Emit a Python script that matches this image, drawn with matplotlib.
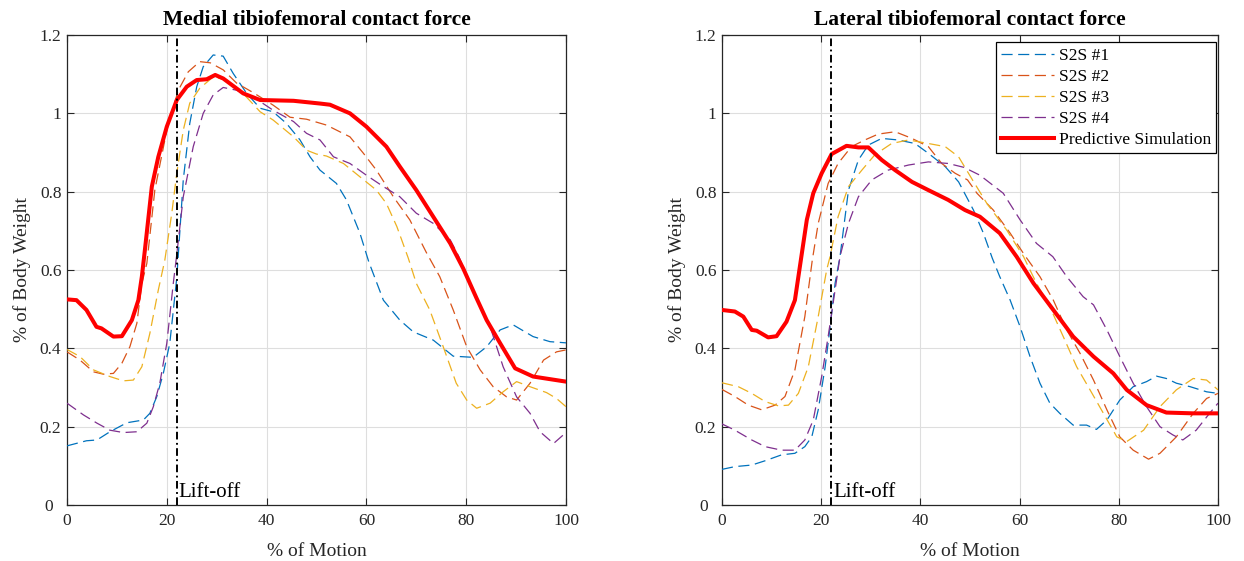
import matplotlib
matplotlib.use("Agg")
import matplotlib.pyplot as plt
from matplotlib.transforms import ScaledTranslation

plt.rcParams["font.family"] = ["Liberation Serif", "DejaVu Serif"]
plt.rcParams["lines.scale_dashes"] = False

# ---------------- Medial tibiofemoral contact force ----------------
med_s1_x = [0, 3.9, 6, 8.6, 12, 15.3, 16.6, 18, 19.3, 20.6, 22, 23.3, 24.6, 26, 27.3, 29.3, 31.3, 33.3,
            36, 38.7, 41.3, 44, 46.7, 48.7, 50.7, 54, 56, 58.7, 60.5, 63.4, 66.7, 69.4, 73.4, 77.4, 81.4,
            84.1, 86.8, 89.4, 93.4, 96.8, 100]
med_s1_y = [0.151, 0.164, 0.166, 0.187, 0.21, 0.217, 0.234, 0.277, 0.336, 0.413, 0.58, 0.83, 0.974, 1.068,
            1.119, 1.149, 1.146, 1.102, 1.051, 1.013, 1.004, 0.974, 0.932, 0.889, 0.855, 0.821, 0.779,
            0.694, 0.62, 0.523, 0.472, 0.442, 0.421, 0.38, 0.377, 0.404, 0.447, 0.46, 0.43, 0.417, 0.414]

med_s2_x = [0, 2.6, 5.3, 7.3, 9.3, 11, 12.6, 14, 15, 16, 17.6, 20, 22.3, 24.3, 26.6, 28.7, 31.3, 34, 37.3,
            41.3, 44.7, 48, 52, 56.7, 59.4, 62, 65.4, 68.7, 72, 74.7, 77.4, 80.1, 82.8, 85.4, 88.1, 90.1,
            92.8, 95.5, 98.1, 100]
med_s2_y = [0.391, 0.37, 0.34, 0.334, 0.336, 0.362, 0.404, 0.464, 0.566, 0.617, 0.804, 0.957, 1.059, 1.106,
            1.132, 1.129, 1.111, 1.077, 1.053, 1.021, 0.99, 0.985, 0.97, 0.94, 0.898, 0.855, 0.787, 0.728,
            0.645, 0.583, 0.498, 0.404, 0.345, 0.302, 0.276, 0.268, 0.311, 0.37, 0.391, 0.396]

med_s3_x = [0, 2.6, 5.3, 8.6, 11.3, 13.3, 15, 16.6, 18.3, 19.6, 21, 22, 23.3, 24.6, 26.6, 29.3, 32, 34.7,
            38.7, 41.3, 45.4, 48, 50, 52, 55.4, 58.7, 62, 64, 66.1, 68.4, 70, 72.7, 75.4, 78, 80.1, 82.1,
            84.8, 87.4, 90.1, 92.8, 96.1, 98.1, 100]
med_s3_y = [0.397, 0.379, 0.345, 0.328, 0.317, 0.319, 0.353, 0.438, 0.549, 0.625, 0.745, 0.847, 0.957,
            1.026, 1.064, 1.093, 1.085, 1.059, 1.004, 0.983, 0.94, 0.906, 0.896, 0.891, 0.872, 0.838,
            0.804, 0.77, 0.711, 0.63, 0.566, 0.498, 0.404, 0.311, 0.268, 0.247, 0.26, 0.289, 0.315,
            0.302, 0.287, 0.272, 0.251]

med_s4_x = [0, 3.3, 6, 8.6, 11.3, 14, 16, 17.3, 18.6, 20, 21.3, 22, 23.3, 25.3, 27.3, 29.3, 31.3, 34, 37.3,
            41.3, 45.4, 48, 50.7, 53.4, 56.7, 60, 63.4, 66.7, 70, 73.4, 76.8, 78.5, 81.4, 84.8, 87.4,
            90.1, 92.8, 94.8, 97.5, 100]
med_s4_y = [0.26, 0.23, 0.209, 0.191, 0.185, 0.187, 0.209, 0.251, 0.311, 0.413, 0.566, 0.64, 0.787, 0.915,
            1.0, 1.047, 1.066, 1.059, 1.042, 1.008, 0.979, 0.949, 0.932, 0.889, 0.872, 0.842, 0.813,
            0.787, 0.745, 0.719, 0.677, 0.635, 0.549, 0.455, 0.353, 0.276, 0.234, 0.187, 0.157, 0.185]

med_sim_x = [0, 1.9, 3.9, 5.9, 6.9, 9.3, 11, 13, 14.3, 15, 15.6, 17, 18.3, 20, 22, 24, 26, 28, 29.7, 31.3,
             35.3, 38.7, 45.4, 50.7, 52.7, 56.7, 60, 64, 66.7, 70, 73.4, 76.8, 79.4, 82, 84.1, 86.8, 89.8,
             93.4, 100]
med_sim_y = [0.525, 0.523, 0.498, 0.455, 0.451, 0.43, 0.431, 0.472, 0.523, 0.583, 0.65, 0.813, 0.889,
             0.966, 1.034, 1.068, 1.085, 1.087, 1.098, 1.089, 1.051, 1.034, 1.032, 1.025, 1.022, 1.0,
             0.966, 0.915, 0.864, 0.804, 0.736, 0.668, 0.604, 0.53, 0.472, 0.413, 0.349, 0.328, 0.315]

# ---------------- Lateral tibiofemoral contact force ----------------
lat_s1_x = [0, 2.6, 6, 8.7, 12, 14.7, 16.7, 18.1, 19.4, 20.8, 21.8, 22.8, 23.8, 25.5, 27.5, 29.5, 32.2,
            35.5, 38.9, 41.6, 45, 47.7, 50.7, 52.7, 54.5, 56, 58.1, 60.1, 62.1, 64.1, 66.1, 68.1, 70.8,
            73.5, 75.5, 77.6, 80.2, 82.9, 85.6, 87.6, 89.6, 91.6, 94.4, 97.7, 100]
lat_s1_y = [0.091, 0.098, 0.102, 0.113, 0.128, 0.132, 0.149, 0.174, 0.243, 0.353, 0.455, 0.566, 0.635,
            0.804, 0.881, 0.919, 0.936, 0.932, 0.923, 0.898, 0.864, 0.825, 0.753, 0.694, 0.63, 0.583,
            0.523, 0.455, 0.379, 0.311, 0.26, 0.234, 0.204, 0.204, 0.193, 0.217, 0.268, 0.302, 0.315,
            0.329, 0.323, 0.311, 0.302, 0.289, 0.285]

lat_s2_x = [0, 2.6, 5.3, 8, 10.7, 12.7, 14.7, 16.7, 18.2, 19.4, 21.4, 23.4, 26.1, 28.8, 31.5, 34.9, 38.3,
            41.6, 44.3, 47, 49.5, 51.4, 54.7, 58.1, 61, 64.1, 66.8, 69.5, 72.2, 74.9, 77.6, 80.2, 82.9,
            86, 88.3, 91.6, 95, 97.7, 100]
lat_s2_y = [0.295, 0.277, 0.255, 0.243, 0.255, 0.277, 0.345, 0.481, 0.625, 0.719, 0.821, 0.872, 0.915,
            0.932, 0.947, 0.953, 0.936, 0.915, 0.872, 0.847, 0.83, 0.796, 0.753, 0.694, 0.638, 0.583,
            0.523, 0.447, 0.387, 0.319, 0.243, 0.174, 0.14, 0.117, 0.132, 0.174, 0.234, 0.272, 0.285]

lat_s3_x = [0, 3.3, 6, 8.7, 11.4, 13.4, 15.4, 17.4, 19.4, 21.1, 21.8, 23.4, 25.5, 28.2, 30.8, 34.2, 37.6,
            41.6, 45, 47.7, 50.5, 53.4, 57.4, 60.8, 63.4, 66.1, 68.8, 71.5, 74.2, 76.9, 79.6, 81.6, 85,
            88.3, 91.6, 95, 97.7, 100]
lat_s3_y = [0.312, 0.302, 0.285, 0.264, 0.253, 0.255, 0.285, 0.353, 0.481, 0.6, 0.635, 0.736, 0.813,
            0.855, 0.894, 0.923, 0.932, 0.923, 0.915, 0.889, 0.83, 0.77, 0.702, 0.634, 0.566, 0.506,
            0.43, 0.353, 0.294, 0.234, 0.174, 0.162, 0.191, 0.251, 0.294, 0.323, 0.319, 0.294]

lat_s4_x = [0, 2.6, 6, 8.7, 12, 14.7, 16.7, 18.4, 20.1, 21.4, 22.8, 23.8, 25.5, 27.5, 30.2, 33.5, 37.6,
            41.6, 45.6, 48.8, 52, 56.7, 60.1, 63.4, 66.7, 69.5, 72.8, 74.9, 77.6, 80.2, 82.9, 85.6, 88.3,
            90.9, 92.9, 95.6, 98.3, 100]
lat_s4_y = [0.207, 0.191, 0.166, 0.149, 0.14, 0.14, 0.166, 0.217, 0.328, 0.43, 0.549, 0.635, 0.719, 0.787,
            0.83, 0.855, 0.868, 0.876, 0.872, 0.862, 0.842, 0.796, 0.728, 0.668, 0.634, 0.583, 0.532,
            0.511, 0.447, 0.379, 0.311, 0.251, 0.2, 0.179, 0.166, 0.191, 0.234, 0.26]

lat_sim_x = [0, 2.6, 4.3, 6, 7, 9.3, 11, 13, 14.7, 15.6, 17.1, 18.4, 20.1, 22.1, 25.1, 27.5, 29.5, 32.2,
             34.9, 38.3, 41.6, 45.6, 49, 52, 56, 59.4, 62.8, 66.8, 70.8, 74.9, 78.9, 81.6, 85.6, 89.6,
             95, 100]
lat_sim_y = [0.498, 0.494, 0.481, 0.447, 0.445, 0.428, 0.431, 0.468, 0.523, 0.6, 0.728, 0.796, 0.847,
             0.896, 0.917, 0.913, 0.913, 0.881, 0.855, 0.825, 0.804, 0.779, 0.753, 0.736, 0.694, 0.634,
             0.566, 0.498, 0.43, 0.379, 0.336, 0.294, 0.255, 0.236, 0.234, 0.234]

series_labels = ["S2S #1", "S2S #2", "S2S #3", "S2S #4", "Predictive Simulation"]
series_colors = ["#0072BD", "#D95319", "#EDB120", "#7E2F8E", "#FF0000"]
titles = ["Medial tibiofemoral contact force", "Lateral tibiofemoral contact force"]
liftoff_pct = 22
x_ticks = [0, 20, 40, 60, 80, 100]
y_ticks = [0, 0.2, 0.4, 0.6, 0.8, 1.0, 1.2]
y_tick_labels = ["0", "0.2", "0.4", "0.6", "0.8", "1", "1.2"]

panels = [
    [(med_s1_x, med_s1_y), (med_s2_x, med_s2_y), (med_s3_x, med_s3_y), (med_s4_x, med_s4_y),
     (med_sim_x, med_sim_y)],
    [(lat_s1_x, lat_s1_y), (lat_s2_x, lat_s2_y), (lat_s3_x, lat_s3_y), (lat_s4_x, lat_s4_y),
     (lat_sim_x, lat_sim_y)],
]

fig = plt.figure(figsize=(12.44, 5.61), dpi=100)
ax_rects = [[67 / 1244, 56 / 561, 499 / 1244, 470 / 561],
            [722 / 1244, 56 / 561, 496 / 1244, 470 / 561]]

axis_color = "#262626"
for k, (rect, data) in enumerate(zip(ax_rects, panels)):
    ax = fig.add_axes(rect)
    for i, (xs, ys) in enumerate(data):
        if i < 4:
            ax.plot(xs, ys, color=series_colors[i], lw=0.9, linestyle="--",
                    dashes=(8, 4), label=series_labels[i], zorder=3)
        else:
            ax.plot(xs, ys, color=series_colors[i], lw=2.9, label=series_labels[i], zorder=4)
    ax.axvline(liftoff_pct, color="black", lw=1.4, linestyle="-.",
               dashes=(5.5, 2.5, 1.3, 2.5), zorder=5)
    ax.text(liftoff_pct + 0.4, 0.02, "Lift-off", fontsize=15, ha="left", va="baseline", zorder=6)

    ax.set_xlim(0, 100)
    ax.set_ylim(0, 1.2)
    ax.set_xticks(x_ticks)
    ax.set_yticks(y_ticks)
    ax.set_yticklabels(y_tick_labels)
    ax.grid(True, color="#dedede", lw=0.8)
    ax.set_axisbelow(True)
    ax.tick_params(direction="in", top=True, right=True, length=5, width=0.8,
                   labelsize=12.5, colors=axis_color)
    ax.tick_params(axis="x", pad=6)
    ax.tick_params(axis="y", pad=4)
    # the y "0" label steps aside from the x "0" label at the corner
    zero_lbl = ax.get_yticklabels()[0]
    zero_lbl.set_transform(zero_lbl.get_transform() + ScaledTranslation(-8 / 100, 0, fig.dpi_scale_trans))
    for sp in ax.spines.values():
        sp.set_color(axis_color)
        sp.set_linewidth(0.9)
    ax.set_title(titles[k], fontsize=15.5, fontweight="bold", pad=7.5)
    ax.set_xlabel("% of Motion", fontsize=14, color=axis_color, labelpad=9.5)
    ax.set_ylabel("% of Body Weight", fontsize=14, color=axis_color, labelpad=6)

    if k == 1:
        leg = ax.legend(loc="upper right", fontsize=12.6, frameon=True, fancybox=False,
                        edgecolor="black", framealpha=1, borderpad=0.3, labelspacing=0.27,
                        handlelength=3.0, handletextpad=0.3, borderaxespad=0.1,
                        bbox_to_anchor=(1.0, 0.988))
        leg.get_frame().set_linewidth(0.9)

fig.savefig("out.png", dpi=100)
